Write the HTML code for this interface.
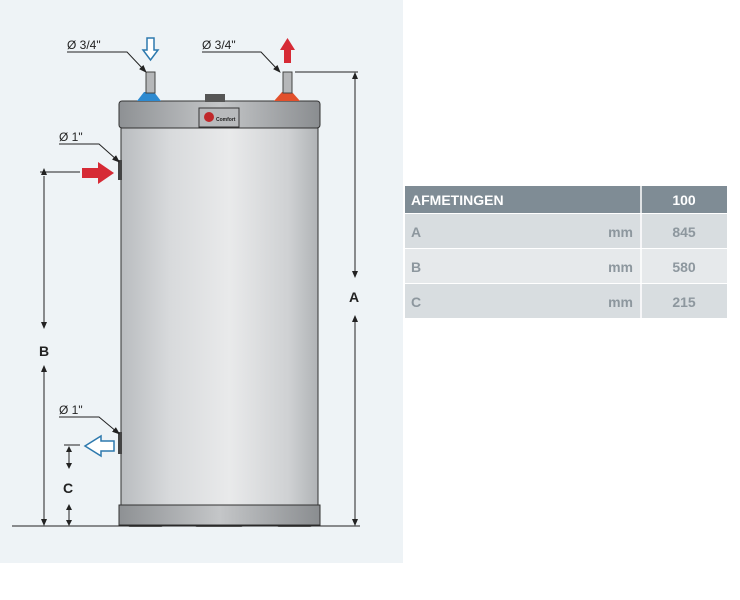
<!DOCTYPE html>
<html><head><style>
body{margin:0;width:740px;height:600px;background:#fff;overflow:hidden;font-family:"Liberation Sans",sans-serif}
</style></head><body>
<svg width="740" height="600" xmlns="http://www.w3.org/2000/svg" style="position:absolute;left:0;top:0">
<defs>
<linearGradient id="body" x1="0" x2="1"><stop offset="0" stop-color="#b9bcbf"/><stop offset="0.25" stop-color="#d8dadc"/><stop offset="0.55" stop-color="#e9eaeb"/><stop offset="0.85" stop-color="#cfd1d3"/><stop offset="1" stop-color="#b0b3b6"/></linearGradient>
<linearGradient id="cap" x1="0" x2="1"><stop offset="0" stop-color="#8e9194"/><stop offset="0.5" stop-color="#c4c6c8"/><stop offset="1" stop-color="#8a8d90"/></linearGradient>
<marker id="ah" markerWidth="8" markerHeight="8" refX="4" refY="4" orient="auto"><path d="M0,1 L8,4 L0,7z" fill="#222"/></marker>
</defs>
<rect x="0" y="0" width="403" height="563" fill="#eef3f6"/>
<!-- feet -->
<rect x="128" y="523" width="35" height="4" rx="2" fill="#777"/>
<rect x="195" y="523" width="48" height="4" rx="2" fill="#777"/>
<rect x="277" y="523" width="35" height="4" rx="2" fill="#777"/>
<!-- tank -->
<rect x="121" y="128" width="197" height="377" fill="url(#body)" stroke="#333" stroke-width="1"/>
<rect x="119" y="101" width="201" height="27" rx="3" fill="url(#cap)" stroke="#333"/>
<rect x="119" y="505" width="201" height="20" fill="url(#cap)" stroke="#333"/>
<rect x="199" y="108" width="40" height="19" fill="#b8babc" stroke="#333"/>
<circle cx="209" cy="117" r="5" fill="#c0282b"/>
<text x="216" y="121" font-size="5" font-weight="bold" fill="#222">Comfort</text>
<rect x="205" y="94" width="20" height="8" fill="#555"/>
<!-- pipes -->
<path d="M137,101 L144,92 L154,92 L161,101z" fill="#2d8ad0"/>
<rect x="146" y="72" width="9" height="21" fill="#b5b7b9" stroke="#444"/>
<path d="M274,101 L282,92 L292,92 L300,101z" fill="#e2502c"/>
<rect x="283" y="72" width="9" height="21" fill="#b5b7b9" stroke="#444"/>
<rect x="118" y="160" width="4" height="20" fill="#444"/>
<rect x="118" y="432" width="4" height="22" fill="#444"/>
<!-- arrows -->
<path d="M147,38 L154,38 L154,50 L158,50 L150.5,60 L143,50 L147,50z" fill="#fff" stroke="#2d79ad" stroke-width="1.5"/>
<path d="M284,63 L291,63 L291,50 L295,50 L287.5,38 L280,50 L284,50z" fill="#d62a35"/>
<path d="M82,168 L98,168 L98,162 L114,173 L98,184 L98,178 L82,178z" fill="#d62a35"/>
<path d="M114,441 L101,441 L101,436 L85,446 L101,456 L101,451 L114,451z" fill="#fff" stroke="#2d79ad" stroke-width="1.5"/>
<!-- leaders -->
<g stroke="#222" stroke-width="1" fill="none">
<polyline points="67,52 127,52 144,70" marker-end="url(#ah)"/>
<polyline points="202,52 261,52 278,70" marker-end="url(#ah)"/>
<polyline points="59,144 99,144 117,160" marker-end="url(#ah)"/>
<polyline points="59,417 99,417 117,432" marker-end="url(#ah)"/>
<line x1="295" y1="72" x2="358" y2="72"/>
<line x1="40" y1="172" x2="80" y2="172"/>
<line x1="64" y1="445" x2="80" y2="445"/>
<line x1="12" y1="526" x2="360" y2="526"/>
<line x1="355" y1="76" x2="355" y2="275"/>
<line x1="355" y1="318" x2="355" y2="524"/>
<line x1="44" y1="176" x2="44" y2="326"/>
<line x1="44" y1="368" x2="44" y2="524"/>
<line x1="69" y1="449" x2="69" y2="466"/>
<line x1="69" y1="507" x2="69" y2="524"/>
</g>
<g fill="#222">
<path d="M355,72 L352,79 L358,79z"/><path d="M355,278 L352,271 L358,271z"/>
<path d="M355,315 L352,322 L358,322z"/><path d="M355,526 L352,519 L358,519z"/>
<path d="M44,168 L41,175 L47,175z"/><path d="M44,329 L41,322 L47,322z"/>
<path d="M44,365 L41,372 L47,372z"/><path d="M44,526 L41,519 L47,519z"/>
<path d="M69,446 L66,452 L72,452z"/><path d="M69,469 L66,463 L72,463z"/>
<path d="M69,504 L66,510 L72,510z"/><path d="M69,526 L66,520 L72,520z"/>
</g>
<g font-size="12" fill="#222">
<text x="67" y="49">Ø 3/4"</text>
<text x="202" y="49">Ø 3/4"</text>
<text x="59" y="141">Ø 1"</text>
<text x="59" y="414">Ø 1"</text>
</g>
<g font-size="14" font-weight="bold" fill="#222">
<text x="349" y="302">A</text>
<text x="39" y="356">B</text>
<text x="63" y="493">C</text>
</g>
<!-- table -->
<rect x="405" y="186" width="322" height="27" fill="#7f8c95"/>
<rect x="405" y="214" width="322" height="34" fill="#d8dde0"/>
<rect x="405" y="249" width="322" height="34" fill="#e6e9eb"/>
<rect x="405" y="284" width="322" height="34" fill="#d8dde0"/>
<line x1="641" y1="186" x2="641" y2="318" stroke="#fff" stroke-width="1.5"/>
<g font-size="14" font-weight="bold">
<text x="411" y="205" fill="#fff">AFMETINGEN</text>
<text x="684" y="205" fill="#fff" text-anchor="middle">100</text>
</g>
<g font-size="14" font-weight="bold" fill="#8d979e">
<text x="411" y="237">A</text><text x="633" y="237" text-anchor="end">mm</text><text x="684" y="237" text-anchor="middle">845</text>
<text x="411" y="272">B</text><text x="633" y="272" text-anchor="end">mm</text><text x="684" y="272" text-anchor="middle">580</text>
<text x="411" y="307">C</text><text x="633" y="307" text-anchor="end">mm</text><text x="684" y="307" text-anchor="middle">215</text>
</g>
</svg>
</body></html>
